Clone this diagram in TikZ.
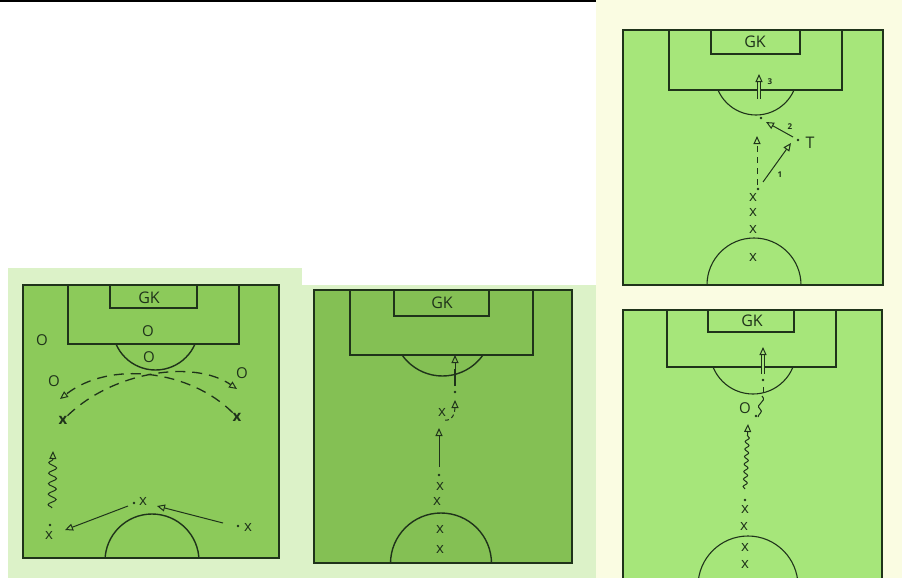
\documentclass[tikz,border=0pt]{standalone}
\usepackage{fontspec}
\setsansfont{Open Sans}
\usetikzlibrary{arrows.meta,decorations.pathmorphing}
\definecolor{palegreen}{HTML}{DCF2C8}
\definecolor{paleyellow}{HTML}{FAFCE2}
\definecolor{grassA}{HTML}{8CCA5A}
\definecolor{grassB}{HTML}{84C054}
\definecolor{grassC}{HTML}{A6E67A}
\definecolor{ink}{HTML}{1F331A}
\tikzset{
  pitchline/.style={draw=ink, line width=1.4pt},
  thinline/.style={draw=ink, line width=1.1pt},
  gklabel/.style={font=\sffamily\fontsize{16}{16}\selectfont, text=ink, inner sep=0pt},
  playerx/.style={font=\sffamily\fontsize{15}{15}\selectfont, text=ink, inner sep=0pt},
  boldx/.style={font=\sffamily\bfseries\fontsize{15}{15}\selectfont, text=ink, inner sep=0pt},
  oppo/.style={font=\sffamily\fontsize{15}{15}\selectfont, text=ink, inner sep=0pt},
  numlabel/.style={font=\sffamily\bfseries\fontsize{8}{8}\selectfont, text=ink, inner sep=0pt},
  ballpt/.style={circle, fill=ink, inner sep=0pt, minimum size=2.6pt},
  opentip/.style={-{Triangle[open, length=8pt, width=7pt, line width=1pt]}},
  pass/.style={draw=ink, line width=1pt, opentip},
  dashpass/.style={pass, line width=1.3pt, dash pattern=on 10pt off 7pt},
  shortdash/.style={pass, dash pattern=on 4pt off 3pt},
  dribble/.style={pass, decorate, decoration={snake, amplitude=4pt, segment length=10.5pt, post length=8pt}},
  finedribble/.style={pass, decorate, decoration={snake, amplitude=2pt, segment length=7.5pt, post length=8pt}},
  shotline/.style={draw=ink, line width=0.9pt, double=grassC, double distance=1.6pt, opentip},
}
\begin{document}
\begin{tikzpicture}[x=1pt,y=-1pt]
\clip (0,0) rectangle (902,578);
\useasboundingbox (0,0) rectangle (902,578);
\fill[white] (0,0) rectangle (902,578);
% backgrounds
\fill[black] (0,0) rectangle (596,2.5);
\fill[palegreen] (8,268) rectangle (302,578);
\fill[palegreen] (302,285) rectangle (596,578);
\fill[paleyellow] (596,0) rectangle (902,578);

% ================= Panel 1 =================
\fill[grassA] (23,285) rectangle (279,558);
\draw[pitchline] (23,285) rectangle (279,558);
\draw[pitchline] (68,285) rectangle (239,344);
\draw[pitchline] (110,285) rectangle (197,308);
\begin{scope}
  \clip (60,344) rectangle (250,400);
  \draw[pitchline] (155.5,327) circle (43);
\end{scope}
\begin{scope}
  \clip (23,450) rectangle (279,558);
  \draw[pitchline] (152,561) circle (47);
\end{scope}
\node[gklabel] (gk1) at (149,298) {GK};
\node[oppo] (o1) at (42,340) {O};
\node[oppo] (o2) at (148,331) {O};
\node[oppo] (o3) at (149,357) {O};
\node[oppo] (o4) at (54,381) {O};
\node[oppo] (o5) at (242,373) {O};
\node[boldx] (x1) at (63,420) {x};
\node[boldx] (x2) at (237,417) {x};
\node[playerx] (x3) at (143,501) {x};
\node[playerx] (x4) at (248,527) {x};
\node[playerx] (x5) at (49,535) {x};
\node[ballpt] (d1) at (134,503) {};
\node[ballpt] (d2) at (238,526) {};
\node[ballpt] (d3) at (50,525) {};
\coordinate (a1) at (237,389);
\coordinate (b1) at (60,399);
\draw[dashpass] (x1) .. controls (115,370) and (195,360) .. (a1);
\draw[dashpass] (x2) .. controls (190,370) and (110,360) .. (b1);
\coordinate (w1s) at (52,508);
\coordinate (w1e) at (53,451);
\draw[dribble] (w1s) -- (w1e);
\coordinate (p1s) at (128,506);
\coordinate (p1e) at (65,530);
\draw[pass] (p1s) -- (p1e);
\coordinate (p2s) at (223,523);
\coordinate (p2e) at (157,506);
\draw[pass] (p2s) -- (p2e);

% ================= Panel 2 =================
\fill[grassB] (314,290) rectangle (572,563);
\draw[pitchline] (314,290) rectangle (572,563);
\draw[pitchline] (350,290) rectangle (533,355);
\draw[pitchline] (394,290) rectangle (489,316);
\begin{scope}
  \clip (395,355) rectangle (490,400);
  \draw[pitchline] (442.5,326.5) circle (49.5);
\end{scope}
\begin{scope}
  \clip (314,450) rectangle (572,563);
  \draw[pitchline] (441,563.5) circle (50.5);
\end{scope}
\node[gklabel] (gk2) at (442,303) {GK};
\coordinate (s2a) at (455,386);
\coordinate (s2b) at (455,355);
\draw[draw=ink, line width=2.6pt] (s2a) -- (455,369);
\draw[pass] (455,369) -- (s2b);
\node[ballpt] (d4) at (455,392) {};
\node[playerx] (x6) at (442,412) {x};
\coordinate (c2a) at (445,420);
\coordinate (c2b) at (455,400);
\draw[shortdash] (c2a) .. controls (452,421) and (455,414) .. (c2b);
\coordinate (r2s) at (439,467);
\coordinate (r2e) at (439,428);
\draw[pass] (r2s) -- (r2e);
\node[ballpt] (d5) at (439,475) {};
\node[playerx] (x7) at (440,486) {x};
\node[playerx] (x8) at (437,501) {x};
\node[playerx] (x9) at (440,529) {x};
\node[playerx] (x10) at (440,549) {x};

% ================= Panel 3 =================
\fill[grassC] (623,30) rectangle (883,285);
\draw[thinline] (623,30) rectangle (883,285);
\draw[thinline] (669,30) rectangle (842,90);
\draw[thinline] (711,30) rectangle (800,54);
\begin{scope}
  \clip (710,90) rectangle (800,130);
  \draw[thinline] (756,73.6) circle (41.4);
\end{scope}
\begin{scope}
  \clip (623,200) rectangle (883,285);
  \draw[thinline] (754,285) circle (47);
\end{scope}
\node[gklabel] (gk3) at (755,42) {GK};
\coordinate (t3a) at (759,99);
\coordinate (t3b) at (759,74);
\draw[shotline] (t3a) -- (t3b);
\node[numlabel] (n3) at (770,82) {3};
\node[ballpt] (d6) at (761,118) {};
\node[ballpt] (d7) at (798,140) {};
\node[gklabel] (tt) at (810,143) {T};
\coordinate (q2s) at (793,137);
\coordinate (q2e) at (766,122);
\draw[pass] (q2s) -- (q2e);
\node[numlabel] (n2) at (790,127) {2};
\coordinate (q1s) at (763,182);
\coordinate (q1e) at (791,143);
\draw[pass] (q1s) -- (q1e);
\node[numlabel] (n1) at (780,175) {1};
\coordinate (q3s) at (757,185);
\coordinate (q3e) at (757,136);
\draw[pass, dash pattern=on 6pt off 5pt] (q3s) -- (q3e);
\node[ballpt] (d8) at (758,189) {};
\node[playerx] (x11) at (753,197) {x};
\node[playerx] (x12) at (753,212) {x};
\node[playerx] (x13) at (753,229) {x};
\node[playerx] (x14) at (753,257) {x};

% ================= Panel 4 =================
\fill[grassC] (623,310) rectangle (882,600);
\draw[thinline] (623,310) rectangle (882,600);
\draw[thinline] (667,310) rectangle (836,367);
\draw[thinline] (708,310) rectangle (794,332);
\begin{scope}
  \clip (705,367) rectangle (800,410);
  \draw[thinline] (753,350.9) circle (43.1);
\end{scope}
\draw[thinline] (748,586) circle (50);
\node[gklabel] (gk4) at (752,321) {GK};
\coordinate (t4a) at (763,374);
\coordinate (t4b) at (763,347);
\draw[shotline] (t4a) -- (t4b);
\node[ballpt] (d9) at (763,380) {};
\coordinate (z4a) at (763,387);
\coordinate (z4b) at (763,392);
\draw[draw=ink, line width=1pt] (z4a) -- (z4b);
\coordinate (z4c) at (762,396);
\coordinate (z4d) at (758,417);
\draw[draw=ink, line width=1pt] (z4c) .. controls (768,402) and (754,404) .. (760,409) .. controls (764,412) and (758,414) .. (z4d);
\node[oppo] (o6) at (745,408) {O};
\node[ballpt] (d10) at (756,416) {};
\coordinate (w4s) at (745,489);
\coordinate (w4e) at (748,424);
\draw[finedribble] (w4s) -- (w4e);
\node[ballpt] (d11) at (745,500) {};
\node[playerx] (x15) at (745,509) {x};
\node[playerx] (x16) at (744,526) {x};
\node[playerx] (x17) at (745,547) {x};
\node[playerx] (x18) at (745,564) {x};
\end{tikzpicture}
\end{document}
